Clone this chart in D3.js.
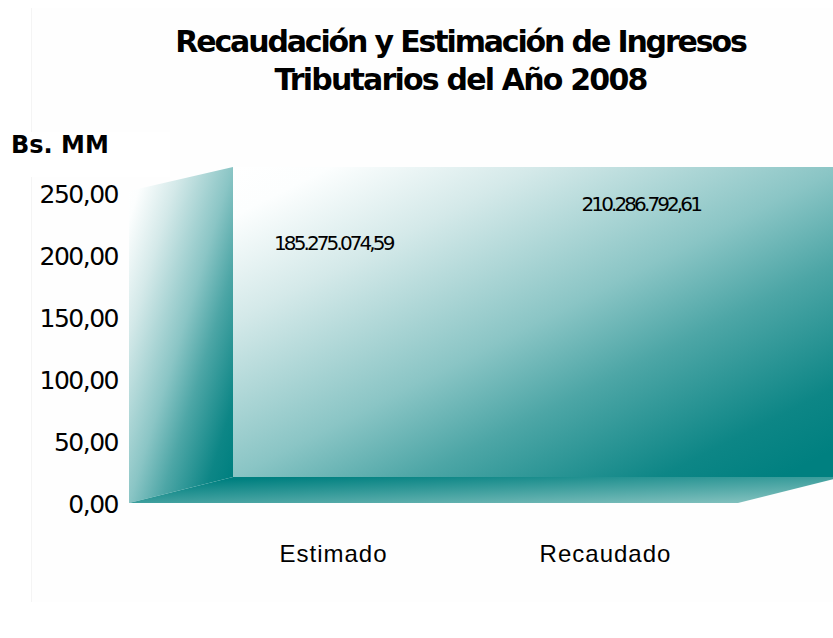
<!DOCTYPE html>
<html><head><meta charset="utf-8">
<script src="https://cdn.jsdelivr.net/npm/d3@7"></script>
<style>html,body{margin:0;padding:0;background:#fff;overflow:hidden}svg{display:block}</style></head>
<body><svg id="c" width="833" height="638"></svg>
<script>
const titleLines = ["Recaudación y Estimación de Ingresos", "Tributarios del Año 2008"];
const unitLabel = "Bs. MM";
const categories = ["Estimado", "Recaudado"];
const values = [185.27507459, 210.28679261];
const valueLabels = ["185.275.074,59", "210.286.792,61"];
const yTicks = [0, 50, 100, 150, 200, 250];
const yDomain = [0, 250];

const svg = d3.select("#c");
const depthX = 104, depthY = -26;
const y = d3.scaleLinear().domain(yDomain).range([503, 191]);
const yBack = d3.scaleLinear().domain(yDomain).range([503 + depthY, 167]);
const x = d3.scaleBand().domain(categories).range([129, 738]);
const xLabel = d3.scalePoint().domain(categories).range([333.5, 605.5]);
const yLabel = d3.scaleLinear().domain(yDomain).range([532, 142]);
const x0 = x.range()[0], x1 = x.range()[1];
const yTickPos = d3.scaleLinear().domain(yDomain).range([503, 193]);

const defs = svg.append("defs");
function grad(id, stops) {
  const g = defs.append("linearGradient").attr("id", id)
    .attr("x1", 0).attr("y1", 0).attr("x2", 1).attr("y2", 1);
  stops.forEach(s => g.append("stop").attr("offset", s[0]).attr("stop-color", s[1]));
}
const teal = d3.interpolateRgb("#ffffff", "#008080");
const wallRamp = [[0, 0], [0.08, 0.01], [0.25, 0.17], [0.5, 0.46], [0.65, 0.70], [0.85, 0.95], [0.95, 1], [1, 1]]
  .map(s => [s[0], teal(s[1])]);
grad("gBack", wallRamp);
grad("gLeft", wallRamp);
grad("gFloor", [[0, "#008080"], [0.12, "#008080"], [1, "#8cc6c3"]]);

// faint frame remnant of the source image
svg.append("rect").attr("x", 31).attr("y", 8).attr("width", 802).attr("height", 594).attr("fill", "#fefefe");
svg.append("line").attr("x1", 31.5).attr("x2", 31.5).attr("y1", 8).attr("y2", 602).attr("stroke", "#f4f4f4");
svg.append("rect").attr("x", 0).attr("y", 132).attr("width", 170).attr("height", 45).attr("fill", "#fff");

const line = d3.line();
// back wall
svg.append("path").attr("fill", "url(#gBack)")
  .attr("d", line([[x0 + depthX, yBack(250)], [x1 + depthX, yBack(250)], [x1 + depthX, yBack(0)], [x0 + depthX, yBack(0)]]) + "Z");
// side wall
svg.append("path").attr("fill", "url(#gLeft)")
  .attr("d", line([[x0, y(250)], [x0 + depthX, yBack(250)], [x0 + depthX, yBack(0)], [x0, y(0)]]) + "Z");
// floor
const floorPts = [[x0, y(0)], [x0 + depthX, yBack(0)], [x1 + depthX, yBack(0)], [x1, y(0)]];
svg.append("path").attr("fill", "url(#gFloor)").attr("d", line(floorPts) + "Z");

// axis
const yAxis = d3.axisLeft(yTickPos).tickValues(yTicks).tickSize(0).tickPadding(0)
  .tickFormat(d => d3.format(".2f")(d).replace(".", ","));
const ag = svg.append("g").attr("transform", "translate(118,0)").call(yAxis);
ag.select(".domain").remove();
ag.selectAll("text").attr("font-family", "DejaVu Sans").attr("font-size", 25).attr("fill", "#000")
  .attr("letter-spacing", -1.5).attr("dy", "0.36em");

// category labels
svg.selectAll("text.cat").data(categories).join("text").attr("class", "cat")
  .attr("x", d => xLabel(d)).attr("y", 562).attr("text-anchor", "middle")
  .attr("font-family", "Liberation Sans").attr("font-size", 24).attr("letter-spacing", 1).attr("fill", "#000")
  .text(d => d);

// value labels
svg.selectAll("text.val").data(values).join("text").attr("class", "val")
  .attr("x", (d, i) => x(categories[i]) + x.bandwidth() / 2 + 52 + i * 3)
  .attr("y", d => yLabel(d) + 7).attr("text-anchor", "middle")
  .attr("font-family", "DejaVu Sans").attr("font-size", 20).attr("letter-spacing", -2.9).attr("fill", "#000")
  .text((d, i) => valueLabels[i]);

// title
const titleSpacing = [-2.15, -1.8];
svg.selectAll("text.title").data(titleLines).join("text").attr("class", "title")
  .attr("x", 460.5).attr("y", (d, i) => 51.5 + i * 38.5).attr("text-anchor", "middle")
  .attr("font-family", "DejaVu Sans").attr("font-weight", "bold").attr("font-size", 30)
  .attr("letter-spacing", (d, i) => titleSpacing[i]).attr("fill", "#000")
  .text(d => d);
svg.append("text").attr("x", 11).attr("y", 153).attr("font-family", "DejaVu Sans").attr("font-weight", "bold")
  .attr("font-size", 24).attr("letter-spacing", 0).attr("fill", "#000").text(unitLabel);
</script></body></html>
